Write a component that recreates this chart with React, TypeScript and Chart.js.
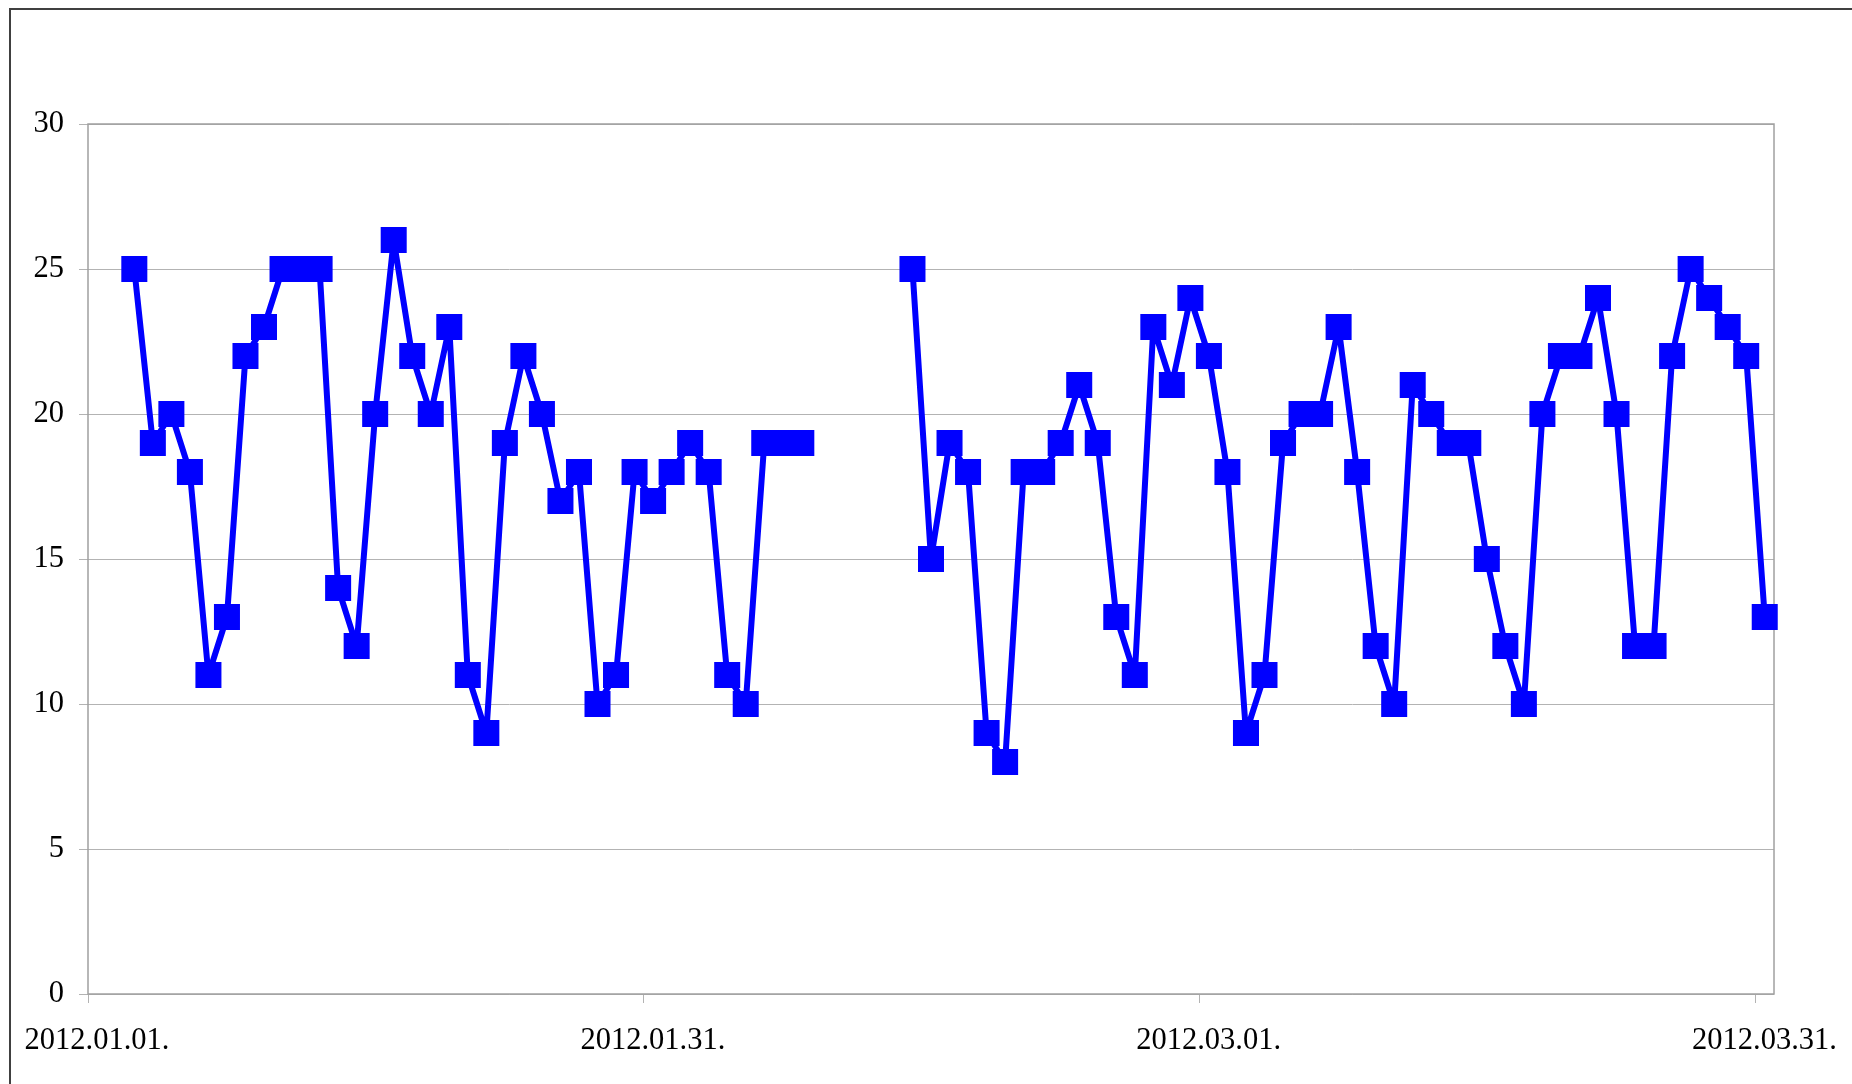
import React, { useEffect, useRef } from "react";
import { Chart, registerables } from "chart.js";

Chart.register(...registerables);

// Dates (x categories) and daily values; null = no data (gap in the line)
const dates = [
  "2012.01.03.", "2012.01.04.", "2012.01.05.", "2012.01.06.", "2012.01.07.", "2012.01.08.", "2012.01.09.", "2012.01.10.",
  "2012.01.11.", "2012.01.12.", "2012.01.13.", "2012.01.14.", "2012.01.15.", "2012.01.16.", "2012.01.17.", "2012.01.18.",
  "2012.01.19.", "2012.01.20.", "2012.01.21.", "2012.01.22.", "2012.01.23.", "2012.01.24.", "2012.01.25.", "2012.01.26.",
  "2012.01.27.", "2012.01.28.", "2012.01.29.", "2012.01.30.", "2012.01.31.",
  "2012.02.01.", "2012.02.02.", "2012.02.03.", "2012.02.04.", "2012.02.05.", "2012.02.06.", "2012.02.07.", "2012.02.08.",
  "2012.02.09.", "2012.02.10.", "2012.02.11.", "2012.02.12.", "2012.02.13.", "2012.02.14.", "2012.02.15.", "2012.02.16.",
  "2012.02.17.", "2012.02.18.", "2012.02.19.", "2012.02.20.", "2012.02.21.", "2012.02.22.", "2012.02.23.", "2012.02.24.",
  "2012.02.25.", "2012.02.26.", "2012.02.27.", "2012.02.28.", "2012.02.29.",
  "2012.03.01.", "2012.03.02.", "2012.03.03.", "2012.03.04.", "2012.03.05.", "2012.03.06.", "2012.03.07.", "2012.03.08.",
  "2012.03.09.", "2012.03.10.", "2012.03.11.", "2012.03.12.", "2012.03.13.", "2012.03.14.", "2012.03.15.", "2012.03.16.",
  "2012.03.17.", "2012.03.18.", "2012.03.19.", "2012.03.20.", "2012.03.21.", "2012.03.22.", "2012.03.23.", "2012.03.24.",
  "2012.03.25.", "2012.03.26.", "2012.03.27.", "2012.03.28.", "2012.03.29.", "2012.03.30.", "2012.03.31.",
];

const valuesJanFeb = [
  25, 19, 20, 18, 11, 13, 22, 23, 25, 25,
  25, 14, 12, 20, 26, 22, 20, 23, 11, 9,
  19, 22, 20, 17, 18, 10, 11, 18, 17, 18,
  19, 18, 11, 10, 19, 19, 19,
];
const valuesGap = [null, null, null, null, null];
const valuesFebMar = [
  25, 15, 19, 18, 9, 8, 18, 18, 19, 21,
  19, 13, 11, 23, 21, 24, 22, 18, 9, 11,
  19, 20, 20, 23, 18, 12, 10, 21, 20, 19,
  19, 15, 12, 10, 20, 22, 22, 24, 20, 12,
  12, 22, 25, 24, 23, 22, 13,
];
const values: (number | null)[] = [...valuesJanFeb, ...valuesGap, ...valuesFebMar];

const xTickLabels = ["2012.01.01.", "2012.01.31.", "2012.03.01.", "2012.03.31."];
const axisEndDate = "2012.04.01.";
const yMin = 0;
const yMax = 30;
const yStep = 5;

function dayIndex(label: string): number {
  const [y, m, d] = label.split(".").filter((s) => s.length).map(Number);
  const [y0, m0, d0] = xTickLabels[0].split(".").filter((s) => s.length).map(Number);
  return Math.round((Date.UTC(y, m - 1, d) - Date.UTC(y0, m0 - 1, d0)) / 86400000);
}

const BLUE = "#0000ff";
const GRID = "#b3b3b3";
const FRAME = "#a0a0a0";
const FONT = { family: "'Liberation Serif', 'Times New Roman', serif", size: 30.5 };

const plotFrame = {
  id: "plotFrame",
  beforeDatasetsDraw(chart: any) {
    const { ctx, chartArea } = chart;
    ctx.save();
    ctx.strokeStyle = FRAME;
    ctx.lineWidth = 1.5;
    ctx.strokeRect(chartArea.left, chartArea.top, chartArea.right - chartArea.left, chartArea.bottom - chartArea.top);
    ctx.restore();
  },
};

export default function App() {
  const canvasRef = useRef<HTMLCanvasElement | null>(null);

  useEffect(() => {
    const canvas = canvasRef.current;
    if (!canvas) return;
    const points = dates.map((d, i) => ({ x: dayIndex(d) + 0.5, y: values[i] }));
    const tickDays = xTickLabels.map(dayIndex);

    const chart = new Chart(canvas, {
      type: "line",
      data: {
        datasets: [
          {
            data: points as any,
            borderColor: BLUE,
            backgroundColor: BLUE,
            borderWidth: 6,
            borderJoinStyle: "round",
            pointStyle: "rect",
            pointRadius: 18.4,
            pointBorderWidth: 0,
            pointBackgroundColor: BLUE,
            pointBorderColor: BLUE,
            spanGaps: false,
            tension: 0,
            clip: false as any,
          },
        ],
      },
      options: {
        animation: false,
        responsive: false,
        devicePixelRatio: 1,
        layout: { padding: { left: 0, top: 124, right: 78, bottom: 0 } },
        plugins: { legend: { display: false }, tooltip: { enabled: false } },
        scales: {
          x: {
            type: "linear",
            min: 0,
            max: dayIndex(axisEndDate),
            afterBuildTicks: (axis: any) => {
              axis.ticks = tickDays.map((v) => ({ value: v }));
            },
            afterFit: (axis: any) => {
              axis.height = 90;
              axis.paddingLeft = 0;
              axis.paddingRight = 0;
            },
            grid: { drawOnChartArea: false, drawTicks: true, tickLength: 9, color: GRID, lineWidth: 1 },
            border: { display: false },
            ticks: {
              autoSkip: false,
              maxRotation: 0,
              minRotation: 0,
              padding: 20,
              labelOffset: 9,
              color: "#000",
              font: FONT,
              callback: (_v: any, i: number) => xTickLabels[i],
            },
          },
          y: {
            min: yMin,
            max: yMax,
            afterFit: (axis: any) => {
              axis.width = 88;
              axis.paddingTop = 0;
              axis.paddingBottom = 0;
            },
            grid: { color: GRID, lineWidth: 1, tickLength: 9 },
            border: { display: false },
            ticks: { stepSize: yStep, padding: 15, color: "#000", font: FONT },
          },
        },
      },
      plugins: [plotFrame],
    });
    return () => chart.destroy();
  }, []);

  return (
    <div>
      <div
        style={{
          position: "absolute",
          left: 9,
          top: 8,
          width: 1843,
          height: 1076,
          borderLeft: "2px solid #404040",
          borderTop: "2px solid #404040",
          boxSizing: "border-box",
        }}
      />
      <div style={{ position: "absolute", left: 0, top: 0, width: 1852, height: 1084 }}>
        <canvas ref={canvasRef} width={1852} height={1084} style={{ display: "block", width: 1852, height: 1084 }} />
      </div>
    </div>
  );
}
